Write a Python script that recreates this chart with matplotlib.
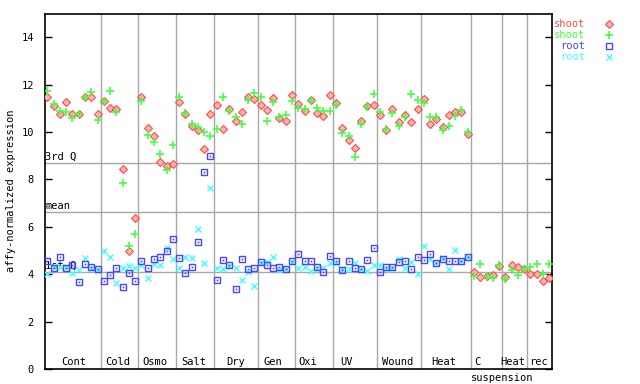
import matplotlib
matplotlib.use("Agg")
import matplotlib.pyplot as plt
import numpy as np

# condition groups along the x axis (number of samples in each)
groups = ["Cont", "Cold", "Osmo", "Salt", "Dry", "Gen", "Oxi", "UV",
          "Wound", "Heat", "C", "Heat", "rec"]
group_sizes = [9, 6, 6, 6, 7, 6, 6, 7, 7, 8, 5, 4, 4]
# where each group label sits (sample-index units)
label_x = [4.2, 11.3, 17.2, 23.3, 30.0, 36.0, 41.5, 47.7, 55.8, 63.2, 68.6, 74.1, 78.2]

shoot_red = [11.46, 11.10, 10.76, 11.25, 10.77, 10.76, 11.46, 11.46, 10.76,
             11.31, 11.01, 10.97, 8.43, 4.99, 6.36,
             11.46, 10.17, 9.83, 8.73, 8.58, 8.64,
             11.28, 10.76, 10.24, 10.07, 9.28, 10.75,
             11.14, 10.14, 10.96, 10.45, 10.83, 11.46, 11.38,
             11.14, 10.91, 11.43, 10.59, 10.45, 11.55,
             11.18, 10.87, 11.35, 10.79, 10.66, 11.55,
             11.21, 10.16, 9.65, 9.31, 10.46, 11.10, 11.14,
             10.70, 10.07, 10.96, 10.41, 10.70, 10.41, 10.96,
             11.38, 10.32, 10.53, 10.20, 10.70, 10.83, 10.83, 9.90,
             4.08, 3.87, 3.92, 3.97, 4.35,
             3.87, 4.39, 4.29, 4.20,
             4.00, 4.01, 3.70, 3.83]

shoot_green = [11.73, 11.18, 10.89, 10.83, 10.58, 10.76, 11.46, 11.69, 10.51,
               11.31, 11.73, 10.83, 7.83, 5.19, 5.70,
               11.29, 9.86, 9.58, 9.06, 8.40, 9.44,
               11.46, 10.79, 10.34, 10.20, 10.00, 9.82,
               10.13, 11.46, 10.87, 10.64, 10.34, 11.34, 11.63,
               11.46, 10.45, 11.25, 10.63, 10.72, 11.29,
               11.00, 10.96, 11.29, 11.00, 10.87, 10.87,
               11.12, 9.94, 9.82, 8.93, 10.32, 11.04, 11.59,
               10.83, 10.11, 10.79, 10.24, 10.62, 11.59, 11.34,
               11.21, 10.62, 10.62, 10.07, 10.24, 10.66, 10.91, 9.99,
               3.91, 4.42, 3.92, 3.83, 4.37,
               3.78, 4.16, 3.95, 4.20,
               4.29, 4.42, 4.00, 4.42]

root_blue = [4.54, 4.26, 4.71, 4.26, 4.37, 3.66, 4.42, 4.32, 4.20,
             3.70, 3.95, 4.25, 3.45, 4.04, 3.70,
             4.54, 4.25, 4.63, 4.71, 4.97, 5.47,
             4.67, 4.04, 4.29, 5.35, 8.30, 8.97,
             3.76, 4.58, 4.37, 3.38, 4.63, 4.21, 4.25,
             4.50, 4.37, 4.25, 4.29, 4.21, 4.54,
             4.84, 4.54, 4.54, 4.29, 4.08, 4.75,
             4.54, 4.16, 4.54, 4.25, 4.21, 4.59, 5.09,
             4.08, 4.29, 4.29, 4.50, 4.54, 4.21, 4.71,
             4.59, 4.85, 4.46, 4.65, 4.54, 4.54, 4.54, 4.71]

root_cyan = [4.01, 4.30, 4.32, 4.32, 4.04, 4.18, 4.67, 4.25, 4.18,
             4.97, 4.71, 3.62, 4.25, 4.33, 4.25,
             4.37, 3.83, 4.42, 4.37, 5.09, 4.63,
             4.25, 4.71, 4.67, 5.89, 4.46, 7.64,
             4.25, 4.22, 4.35, 4.25, 3.74, 4.08, 3.49,
             4.46, 4.50, 4.71, 4.16, 4.21, 4.50,
             4.25, 4.29, 4.12, 4.25, 4.25, 4.46,
             4.46, 4.21, 4.21, 4.46, 4.21, 4.12, 4.37,
             4.37, 4.21, 4.25, 4.63, 4.25, 4.50, 4.00,
             5.18, 4.65, 4.46, 4.67, 4.21, 5.01, 4.54, 4.71]

q3 = 8.68
mean = 6.61
q1 = 4.08

RED = "#ff4a4a"
GREEN = "#44ff44"
BLUE = "#4646ff"
CYAN = "#44ffff"
GRID = "#a8a8a8"
FONT = "DejaVu Sans Mono"

plt.rcParams["font.family"] = FONT

fig = plt.figure(figsize=(6.4, 3.84), dpi=100)
ax = fig.add_axes([45 / 640, 15 / 384, 507 / 640, 355.5 / 384])

n = sum(group_sizes)
ax.set_xlim(-0.37, n - 0.57)
ax.set_ylim(0, 15)

# group separators and quartile lines
bounds = np.cumsum(group_sizes)[:-1] - 0.5
for b in bounds:
    ax.axvline(b, color=GRID, lw=1, zorder=1)
for v in (q3, mean, q1):
    ax.axhline(v, color=GRID, lw=1, zorder=1)
ax.text(-0.3, q3 + 0.05, "3rd Q", fontsize=7.5, va="bottom", ha="left", zorder=2)
ax.text(-0.3, mean + 0.05, "mean", fontsize=7.5, va="bottom", ha="left", zorder=2)
ax.text(-0.3, q1 + 0.05, "1st Q", fontsize=7.5, va="bottom", ha="left", zorder=2)

xs = np.arange(n)
xr = np.arange(len(root_blue))
ax.plot(xr, root_cyan, ls="none", marker="x", ms=4.2, mew=1, color=CYAN, zorder=3)
ax.plot(xr, root_blue, ls="none", marker="s", ms=4.5, mew=1, mfc="none", mec=BLUE, zorder=4)
ax.plot(xr, root_blue, ls="none", marker="s", ms=1.2, mew=0, color=BLUE, zorder=4)
ax.plot(xs, shoot_red, ls="none", marker="D", ms=4.3, mew=0.8, mfc="#ffb4b4", mec=RED, zorder=5)
ax.plot(xs, shoot_green, ls="none", marker="+", ms=5.5, mew=1.2, color=GREEN, zorder=6)

# group labels inside the bottom of the plot
for name, lx in zip(groups, label_x):
    ax.text(lx, 0.08, name, fontsize=7.5, ha="center", va="bottom")
ax.text(72.5, -0.4, "suspension", fontsize=7.5, ha="center", va="center")

ax.set_xticks([])
ax.set_yticks(range(0, 15, 2))
ax.tick_params(axis="y", direction="in", length=5, width=1, right=True,
               labelsize=7.5, pad=8)
for s in ax.spines.values():
    s.set_linewidth(1.2)
ax.set_ylabel("affy-normalized expression", fontsize=7.5, labelpad=4)

# legend drawn as text + marker on the right side
leg = [("shoot", RED, "D"), ("shoot", GREEN, "+"), ("root", BLUE, "s"), ("root", CYAN, "x")]
for i, (lab, c, m) in enumerate(leg):
    y = 1 - (24 + 11 * i) / 384
    fig.text(585 / 640, y, lab, color=c, fontsize=7.5, ha="right", va="center")
    if m == "D":
        fig.lines.append(plt.Line2D([609 / 640], [y], transform=fig.transFigure, marker=m,
                                    ms=4.3, mew=0.8, mfc="#ffb4b4", mec=c, ls="none"))
    elif m == "s":
        fig.lines.append(plt.Line2D([609 / 640], [y], transform=fig.transFigure, marker=m,
                                    ms=4.5, mew=1, mfc="none", mec=c, ls="none"))
    elif m == "+":
        fig.lines.append(plt.Line2D([609 / 640], [y], transform=fig.transFigure, marker=m,
                                    ms=5.5, mew=1.2, color=c, ls="none"))
    else:
        fig.lines.append(plt.Line2D([609 / 640], [y], transform=fig.transFigure, marker=m,
                                    ms=4.2, mew=1, color=c, ls="none"))

fig.savefig("out.png", dpi=100)
